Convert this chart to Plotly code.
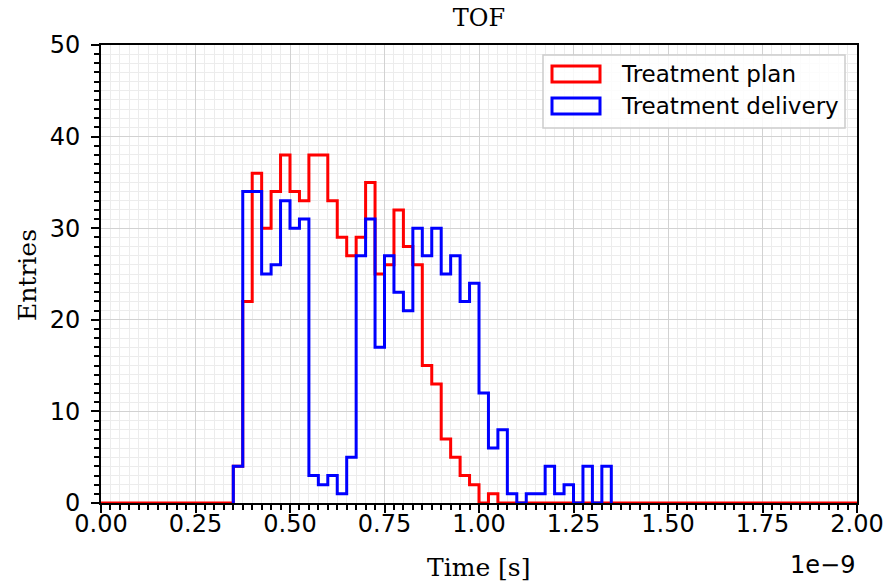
import numpy as np
import plotly.graph_objects as go

# ---- data ----
bin_width = 0.025e-9
bin_edges = np.round(np.arange(0, 81) * bin_width, 15)  # 0 .. 2e-9

# Treatment plan: counts of bins starting at 0.35e-9 (0.35 .. 1.025)
plan_start_bin = 14
plan_counts = [4, 22, 36, 30, 34, 38, 34, 33, 38, 38, 33, 29, 27, 29,
               35, 25, 26, 32, 28, 26, 15, 13, 7, 5, 3, 2, 0, 1]

# Treatment delivery: counts of bins starting at 0.35e-9 (0.35 .. 1.325)
delivery_start_bin = 14
delivery_counts = [4, 34, 34, 25, 26, 33, 30, 31, 3, 2, 3, 1, 5, 27,
                   31, 17, 27, 23, 21, 30, 27, 30, 25, 27, 22, 24, 12, 6,
                   8, 1, 0, 1, 1, 4, 1, 2, 0, 4, 0, 4]

x_tick_vals = [0.0, 0.25e-9, 0.5e-9, 0.75e-9, 1.0e-9, 1.25e-9, 1.5e-9, 1.75e-9, 2.0e-9]
x_tick_text = ["0.00", "0.25", "0.50", "0.75", "1.00", "1.25", "1.50", "1.75", "2.00"]
y_tick_vals = [0, 10, 20, 30, 40, 50]

series_names = ["Treatment plan", "Treatment delivery"]
series_colors = ["#ff0000", "#0000ff"]

# ---- build step outlines ----
n_bins = len(bin_edges) - 1
plan_full = [0] * n_bins
for i, c in enumerate(plan_counts):
    plan_full[plan_start_bin + i] = c


def step_xy(edges, counts):
    x = [edges[0]] + list(edges)
    y = [0] + list(counts) + [0]
    return x, y


px, py = step_xy(bin_edges, plan_full)
d_edges = bin_edges[delivery_start_bin:delivery_start_bin + len(delivery_counts) + 1]
dx, dy = step_xy(d_edges, delivery_counts)

fig = go.Figure()
fig.add_trace(go.Scatter(x=px, y=py, mode="lines", line_shape="hv",
                         line=dict(color=series_colors[0], width=3),
                         name=series_names[0], showlegend=False))
fig.add_trace(go.Scatter(x=dx, y=dy, mode="lines", line_shape="hv",
                         line=dict(color=series_colors[1], width=3),
                         name=series_names[1], showlegend=False))

W, H = 888, 581
PL, PR, PT, PB = 101, 857, 45, 503  # desired plot area on screen
L, R, T, B = PL, W - PR, PT, H - PB
pw, ph = PR - PL, PB - PT


def pxx(p):
    return (p - PL) / pw


def pyy(p):
    return (PB - p) / ph


# ---- manual legend (matplotlib-like patches) ----
shapes = [
    dict(type="rect", xref="paper", yref="paper",
         x0=pxx(543), x1=pxx(845), y0=pyy(128), y1=pyy(55),
         line=dict(color="#cccccc", width=1.5), fillcolor="rgba(255,255,255,0.85)",
         layer="above"),
]
annotations = []
for k, (name, col) in enumerate(zip(series_names, series_colors)):
    yc = 74 + k * 32
    shapes.append(dict(type="rect", xref="paper", yref="paper",
                       x0=pxx(552), x1=pxx(600), y0=pyy(yc + 8), y1=pyy(yc - 8),
                       line=dict(color=col, width=3), fillcolor="rgba(0,0,0,0)",
                       layer="above"))
    annotations.append(dict(text=name, xref="paper", yref="paper",
                            x=pxx(619), y=pyy(yc), xanchor="left", yanchor="middle",
                            showarrow=False,
                            font=dict(family="DejaVu Sans", size=23, color="black")))

annotations.append(dict(text="1e\u22129", xref="paper", yref="paper",
                        x=1.0, y=pyy(565), xanchor="right", yanchor="middle",
                        showarrow=False,
                        font=dict(family="DejaVu Sans", size=24, color="black")))
annotations.append(dict(text="Time [s]", xref="paper", yref="paper",
                        x=pxx(478), y=pyy(567), xanchor="center", yanchor="middle",
                        showarrow=False,
                        font=dict(family="DejaVu Serif", size=25, color="black")))
annotations.append(dict(text="Entries", xref="paper", yref="paper",
                        x=pxx(27), y=pyy(275), xanchor="center", yanchor="middle",
                        textangle=-90, showarrow=False,
                        font=dict(family="DejaVu Serif", size=25, color="black")))

grid_major = "#d2d2d2"
grid_minor = "#ececec"

fig.update_layout(
    width=W, height=H,
    margin=dict(l=L, r=R, t=T, b=B, autoexpand=False),
    paper_bgcolor="white", plot_bgcolor="white",
    title=dict(text="TOF", x=479 / W, xanchor="center",
               y=1 - 18 / H, yanchor="middle", yref="container",
               font=dict(family="DejaVu Serif", size=24, color="black")),
    shapes=shapes, annotations=annotations,
    font=dict(family="DejaVu Sans", size=24, color="black"),
)

fig.update_xaxes(
    range=[0, 2e-9], tickmode="array", tickvals=x_tick_vals, ticktext=x_tick_text,
    ticks="outside", ticklen=8, tickwidth=2, tickcolor="black",
    ticklabelstandoff=-10,
    showline=True, linecolor="black", linewidth=2, mirror=True,
    showgrid=True, gridcolor=grid_major, gridwidth=1, zeroline=False,
    minor=dict(tick0=0, dtick=bin_width, ticks="outside", ticklen=5, tickwidth=1.5,
               tickcolor="black", showgrid=True, gridcolor=grid_minor, gridwidth=1),
    tickfont=dict(family="DejaVu Sans", size=24, color="black"),
)
fig.update_yaxes(
    range=[0, 50], tickmode="array", tickvals=y_tick_vals,
    ticks="outside", ticklen=8, tickwidth=2, tickcolor="black",
    ticklabelstandoff=6,
    showline=True, linecolor="black", linewidth=2, mirror=True,
    showgrid=True, gridcolor=grid_major, gridwidth=1, zeroline=False,
    minor=dict(tick0=0, dtick=1, ticks="outside", ticklen=5, tickwidth=1.5,
               tickcolor="black", showgrid=True, gridcolor=grid_minor, gridwidth=1),
    tickfont=dict(family="DejaVu Sans", size=24, color="black"),
)

fig.write_html("out.html",
               config={"displayModeBar": False},
               post_script="document.body.style.margin='0';document.body.style.padding='0';")
